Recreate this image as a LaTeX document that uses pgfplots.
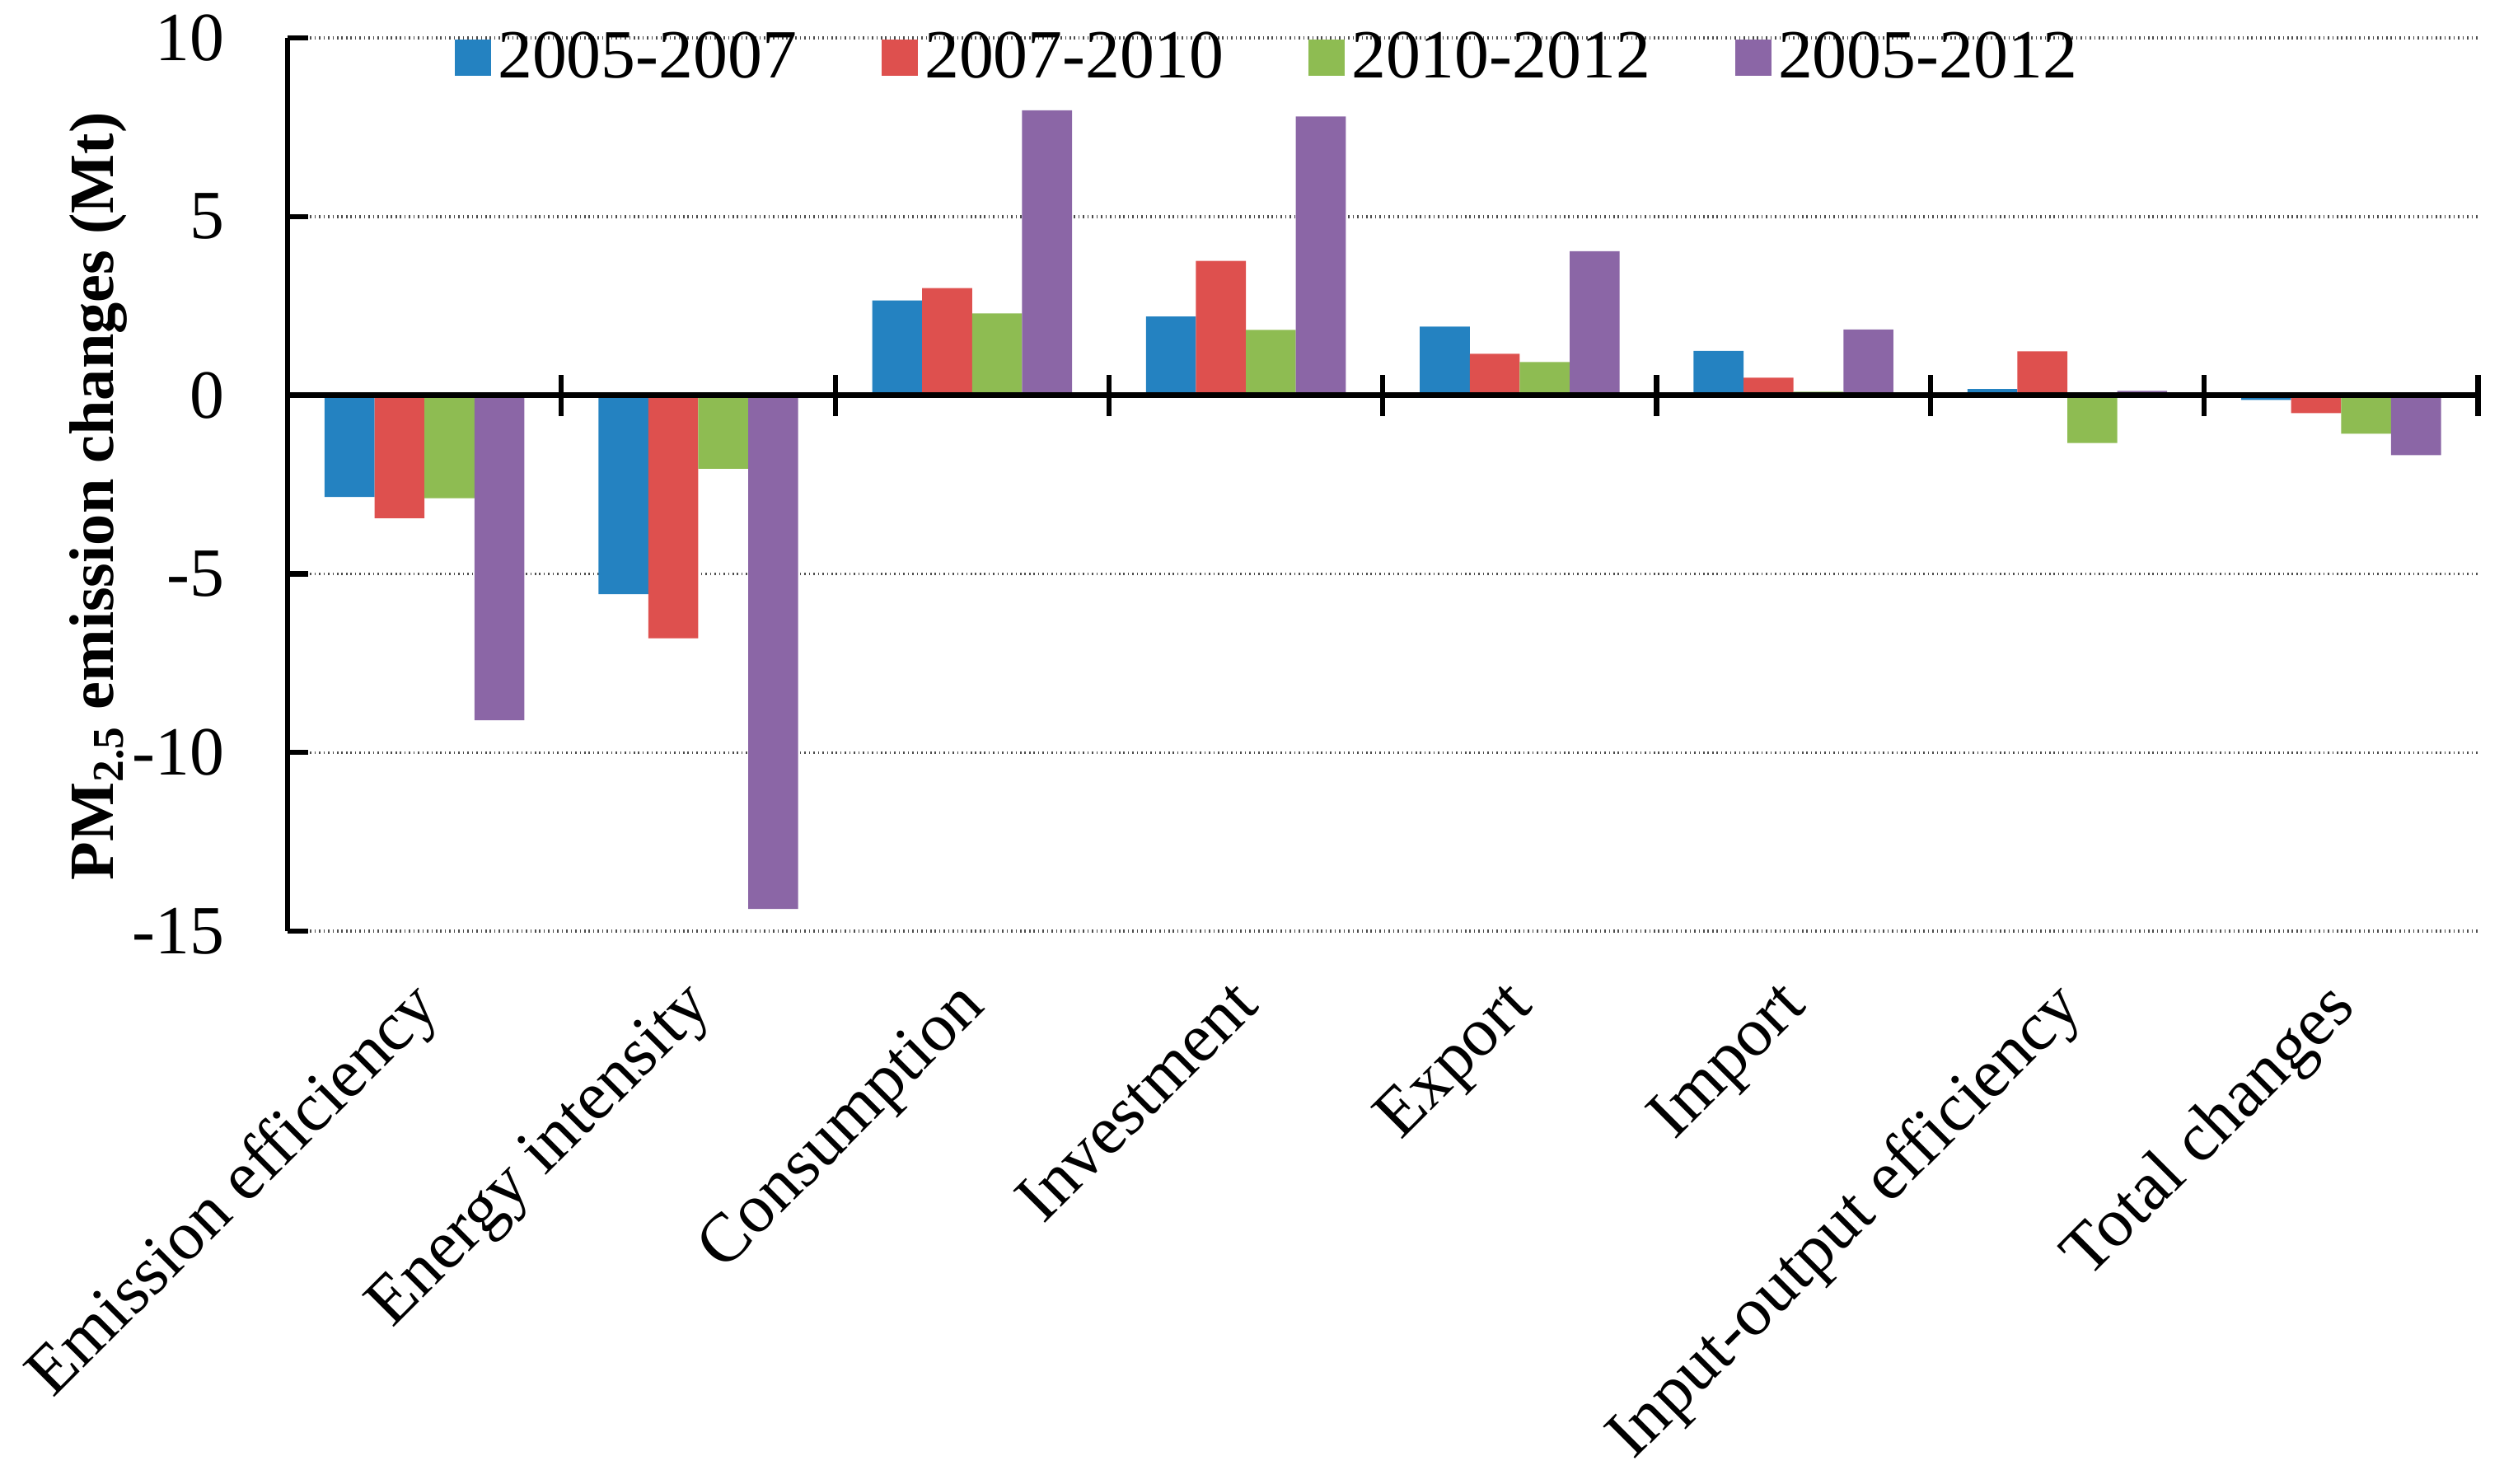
\documentclass[border=0pt]{standalone}
\usepackage{fontspec}
\setmainfont{Liberation Serif}
\usepackage{pgfplots}
\pgfplotsset{compat=1.18}
\newcommand\fsz{\fontsize{21.5}{25}\selectfont}
\newcommand\lsz{\fontsize{19.6}{23}\selectfont}
\definecolor{cA}{RGB}{36,130,193}
\definecolor{cB}{RGB}{222,80,78}
\definecolor{cC}{RGB}{142,188,82}
\definecolor{cD}{RGB}{139,102,166}
\pgfplotsset{
  layers/mylayers/.define layer set={axis background,axis grid,main,axis ticks,axis lines,axis tick labels,axis descriptions,axis foreground}{/pgfplots/layers/standard},
  sqleg/.style={legend image code/.code={\fill[##1,draw=none] (0pt,-5.6pt) rectangle (11.3pt,5.6pt);}},
}
\begin{document}
\begin{tikzpicture}
\begin{axis}[
  set layers=mylayers,
  at={(0,0)}, anchor=south west,
  scale only axis, width=682.4pt, height=278.3pt,
  ybar=0pt, bar width=0.1824,
  xmin=-0.5, xmax=7.5, ymin=-15, ymax=10,
  axis y line=left, axis x line=middle,
  axis line style={-, black, line width=1.6pt},
  xtick={0,...,7},
  xticklabels={Emission efficiency,Energy intensity,Consumption,Investment,Export,Import,Input-output efficiency,Total changes},
  minor xtick={0.5,1.5,...,7.5},
  xtick align=center, ytick align=inside,
  major tick length=6.4pt, minor tick length=12.8pt,
  major x tick style={draw=none},
  minor x tick style={black, line width=1.6pt},
  major y tick style={black, line width=1.6pt},
  ytick={-15,-10,-5,0,5,10},
  yticklabels={-15,-10,-5,0,5,10},
  ymajorgrids,
  major grid style={densely dotted, black!70, line width=0.9pt},
  tick label style={font=\fsz},
  yticklabel style={inner sep=0pt, anchor=east, xshift=-19.5pt},
  xticklabel style={inner sep=0pt, xshift=-5.5pt, yshift=-177.5pt, rotate=45, anchor=north east},
  ylabel={\textbf{PM\textsubscript{2.5} emission changes (Mt)}},
  every axis y label/.style={at={(axis description cs:-0.0797,0.487)}, rotate=90, anchor=base, font=\lsz},
  legend columns=4,
  legend style={at={(axis description cs:0.0762,0.978)}, anchor=west, draw=none, fill=none, inner sep=0pt, font=\fsz,
    /tikz/every even column/.append style={column sep=24.5pt}},
]
\addplot[fill=cA, draw=none, sqleg] coordinates {(0,-2.85) (1,-5.57) (2,2.65) (3,2.2) (4,1.92) (5,1.24) (6,0.17) (7,-0.13)};
\addplot[fill=cB, draw=none, sqleg] coordinates {(0,-3.44) (1,-6.8) (2,3.0) (3,3.76) (4,1.16) (5,0.49) (6,1.23) (7,-0.5)};
\addplot[fill=cC, draw=none, sqleg] coordinates {(0,-2.88) (1,-2.06) (2,2.29) (3,1.83) (4,0.93) (5,0.1) (6,-1.34) (7,-1.08)};
\addplot[fill=cD, draw=none, sqleg] coordinates {(0,-9.1) (1,-14.38) (2,7.97) (3,7.8) (4,4.03) (5,1.84) (6,0.12) (7,-1.68)};
\legend{2005-2007,2007-2010,2010-2012,2005-2012}
\end{axis}
\pgfresetboundingbox
\path[use as bounding box] (-89.6pt,-172.2pt) rectangle (690.5pt,290.1pt);
\end{tikzpicture}
\end{document}
